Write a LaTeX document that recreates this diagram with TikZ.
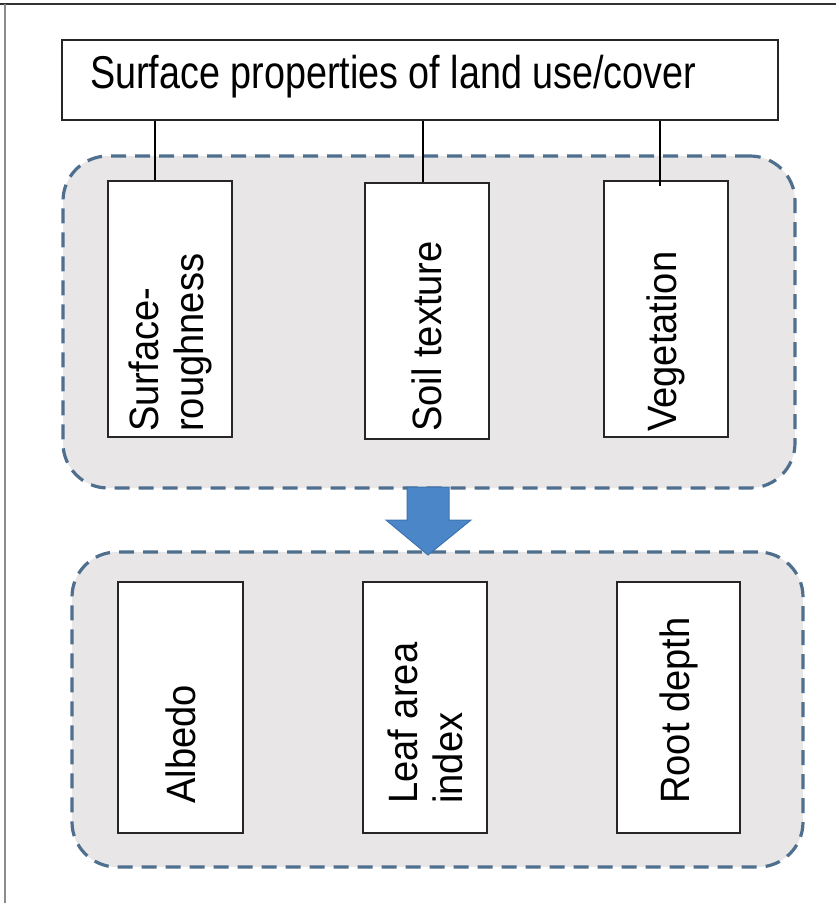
\documentclass[tikz,border=0pt]{standalone}
\usepackage{fontspec}
\setmainfont{Liberation Sans}
\newfontfamily\titlefont[FakeStretch=0.82]{Liberation Sans}
\newfontfamily\boxfont[FakeStretch=0.93]{Liberation Sans}
\definecolor{regionfill}{HTML}{E8E6E7}
\definecolor{regiondash}{HTML}{4F6F8F}
\definecolor{arrowfill}{HTML}{4A86C8}
\definecolor{arrowedge}{HTML}{3E73AE}
\tikzset{
  region/.style={draw=regiondash, fill=regionfill, line width=3.2pt, dash pattern=on 15pt off 9pt, rounded corners=45pt, inner sep=0pt},
  itembox/.style={draw=black!85, fill=white, line width=2.3pt, inner sep=0pt, minimum width=124pt},
  vlabel/.style={rotate=90, anchor=west, inner sep=0pt, align=left, font=\boxfont\fontsize{41}{45}\selectfont},
  link/.style={draw=black, line width=2.6pt},
}
\begin{document}
\begin{tikzpicture}[x=1pt,y=-1pt]
\useasboundingbox (0,0) rectangle (836,903);
% frame
\draw[draw=black!80, line width=2pt] (0,4) -- (836,4);
\draw[draw=black!45, line width=2.4pt] (5,4) -- (5,903);
% regions
\node[region, minimum width=732pt, minimum height=332pt] (upper) at (429,322) {};
\node[region, minimum width=731pt, minimum height=315pt] (lower) at (437.5,709.5) {};
% title
\node[draw=black!85, fill=white, line width=2.3pt, minimum width=716pt, minimum height=80pt, inner sep=0pt] (top) at (420,80) {};
\node[anchor=base west, inner sep=0pt, font=\titlefont\fontsize{46}{46}\selectfont] (title) at (90,88) {Surface properties of land use/cover};
% upper boxes
\node[itembox, minimum height=256pt] (u1) at (170,309) {};
\node[itembox, minimum height=256pt] (u2) at (427,311) {};
\node[itembox, minimum height=256pt] (u3) at (666,309) {};
\node[vlabel] (t1) at (170,432) {Surface-\\roughness};
\node[vlabel] (t2) at (427,432) {Soil texture};
\node[vlabel] (t3) at (666,432) {Vegetation};
% connectors
\draw[link] ([xshift=-15pt]u1.north) -- ([xshift=-15pt]u1.north |- top.south);
\draw[link] ([xshift=-4pt]u2.north) -- ([xshift=-4pt]u2.north |- top.south);
\draw[link] ([xshift=-6pt,yshift=-6pt]u3.north) -- ([xshift=-6pt]u3.north |- top.south);
% lower boxes
\node[itembox, minimum width=125pt, minimum height=251pt] (l1) at (180.5,707.5) {};
\node[itembox, minimum height=251pt] (l2) at (425,707.5) {};
\node[itembox, minimum width=123pt, minimum height=251pt] (l3) at (678.5,707.5) {};
\node[vlabel] (b1) at (180.5,804) {Albedo};
\node[vlabel] (b2) at (425,804) {Leaf area\\index};
\node[vlabel] (b3) at (678.5,804) {Root depth};
% block arrow
\draw[fill=arrowfill, draw=arrowedge, line width=1pt]
  (407,487) -- (449,487) -- (449,520) -- (471,520) -- (428,555) -- (386,520) -- (407,520) -- cycle;
\end{tikzpicture}
\end{document}
